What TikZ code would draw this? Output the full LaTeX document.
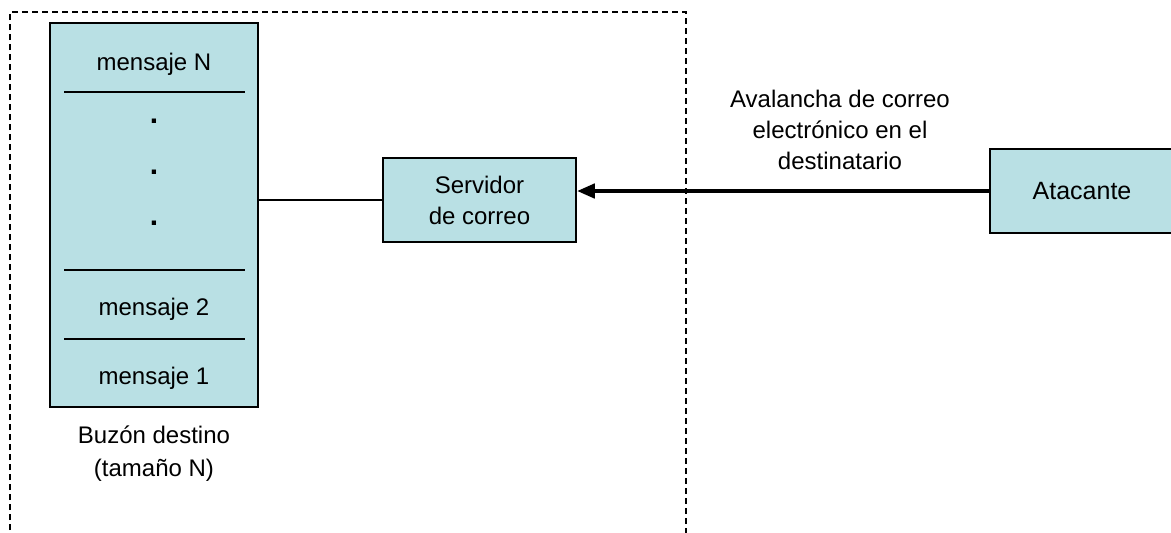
\documentclass[tikz,border=0pt]{standalone}
\usepackage{fontspec}
\setmainfont{Liberation Sans}
\usepackage{xcolor}
\usepackage{tikz}
\usetikzlibrary{calc, positioning, arrows.meta}
\definecolor{boxfill}{RGB}{185,224,228}

\begin{document}
\begin{tikzpicture}[x=0.5pt,y=-0.5pt,thick,
                    font=\fontsize{12}{15.5}\selectfont,
                    main node/.style={rectangle,draw,fill=boxfill,align=center,inner sep=0pt}]

 \useasboundingbox (0,0) rectangle (1171,532);

%DRAWING dashed frame of the receiver side
 \draw[dash pattern=on 3pt off 2pt,line width=0.7pt] (10,540)--(10,12)--(686,12)--(686,540);

%Inserting mailbox and its slots
 \node[main node,minimum width=104pt,minimum height=192pt] (Buzon) at (154,215) {};
 \draw[line width=0.7pt] (64,92)--(245,92);
 \draw[line width=0.7pt] (64,270)--(245,270);
 \draw[line width=0.7pt] (64,339)--(245,339);

 \node (MsgN) at (154,64) {mensaje N};
 \foreach \y in {121,172,223}
 {\node[font=\fontsize{15}{15}\selectfont\bfseries] (Dot\y) at (154,\y) {.};}
 \node (Msg2) at (154,309) {mensaje 2};
 \node (Msg1) at (154,378) {mensaje 1};

 \node[align=center,font=\fontsize{12}{16.5}\selectfont] (BuzonLabel) at (154,454) {Buzón destino\\(tamaño N)};

%Inserting server and attacker
 \node[main node,minimum width=96.5pt,minimum height=42pt] (Servidor) at (479.5,200) {Servidor\\de correo};
 \node[main node,minimum width=92pt,minimum height=42pt,font=\fontsize{12.5}{15}\selectfont] (Atacante) at (1082,191) {Atacante};

 \draw[line width=0.7pt] (Buzon.east |- Servidor.west)--(Servidor.west);
 \draw[-{Triangle[length=9pt,width=7pt]},line width=2.2pt] (Atacante.west)--(Atacante.west -| Servidor.east);

 \node[align=center] (Avalancha) at (840,130) {Avalancha de correo\\electrónico en el\\destinatario};

\end{tikzpicture}
\end{document}
